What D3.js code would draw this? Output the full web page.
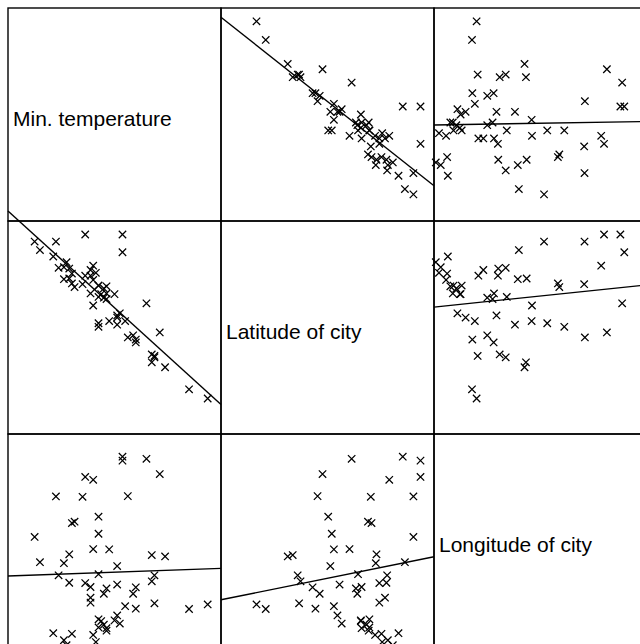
<!DOCTYPE html>
<html><head><meta charset="utf-8">
<script src="https://cdn.jsdelivr.net/npm/d3@7"></script>
<style>html,body{margin:0;padding:0;background:#fff;overflow:hidden}</style>
</head><body>
<script>
// US cities: January minimum temperature, latitude, longitude
const cities = ["Mobile","Montgomery","Phoenix","Little Rock","Los Angeles","San Francisco","Denver","New Haven","Wilmington","Washington","Jacksonville","Key West","Miami","Atlanta","Boise","Chicago","Indianapolis","Des Moines","Wichita","Louisville","New Orleans","Portland ME","Baltimore","Boston","Detroit","Minneapolis","St Louis","Helena","Omaha","Concord","Atlantic City","Albuquerque","Albany","New York","Charlotte","Raleigh","Bismark","Cincinnati","Cleveland","Oklahoma City","Portland OR","Harrisburg","Philadelphia","Charleston","Nashville","Amarillo","Galveston","Houston","Salt Lake City","Burlington","Norfolk","Seattle","Spokane","Madison","Milwaukee","Cheyenne"];
const minTemp = [44,38,35,31,47,42,15,22,26,30,45,65,58,37,22,19,21,11,22,27,45,12,25,23,21,2,24,8,13,11,27,24,14,27,34,31,0,26,21,28,33,24,24,38,31,24,49,44,18,7,32,33,19,9,13,14];
const latitude = [31.2,32.9,33.6,35.4,34.3,38.4,40.7,41.7,40.5,39.7,31.0,25.0,26.3,33.9,43.7,42.3,39.8,41.8,38.1,39.0,30.8,44.2,39.7,42.7,43.1,45.9,39.3,47.1,41.9,43.5,39.8,35.1,42.6,40.8,35.9,36.4,47.1,39.2,42.3,35.9,45.6,40.9,40.9,33.3,36.7,35.6,29.4,30.1,41.1,45.0,37.0,48.1,48.1,43.4,43.3,41.2];
const longitude = [88.5,86.8,112.5,92.8,118.7,123.0,105.3,73.4,76.3,77.5,82.3,82.0,80.7,85.0,117.1,88.0,86.9,93.6,97.6,86.5,90.2,70.5,77.3,71.4,83.9,93.9,90.5,112.4,96.1,71.9,75.3,106.7,73.7,74.6,81.5,78.9,101.0,85.0,82.5,97.5,123.6,77.8,75.5,80.8,87.6,101.9,95.5,95.9,112.3,73.9,76.6,122.5,117.9,90.2,88.1,104.9];

const varLabels = ["Min. temperature","Latitude of city","Longitude of city"];
const varData = [minTemp, latitude, longitude];
const varDomains = [[-10,70],[20,50],[70,130]];

const W = 640, H = 644;
const padLeft = 8, padTop = 8, cell = 213;

const svg = d3.select("body").append("svg").attr("width",W).attr("height",H);

function fit(xs, ys){
  const mx = d3.mean(xs), my = d3.mean(ys);
  let sxy = 0, sxx = 0;
  for(let k=0;k<xs.length;k++){ sxy += (xs[k]-mx)*(ys[k]-my); sxx += (xs[k]-mx)**2; }
  const b = sxy/sxx; return {a: my - b*mx, b};
}

for(let i=0;i<3;i++){
  for(let j=0;j<3;j++){
    const x0 = padLeft + j*cell, y0 = padTop + i*cell;
    const g = svg.append("g");
    g.append("rect").attr("x",x0).attr("y",y0).attr("width",cell).attr("height",cell)
      .attr("fill","none").attr("stroke","#000").attr("stroke-width",1.4);
    if(i===j){
      g.append("text").attr("x",x0+5).attr("y",y0+cell/2+11.5)
        .attr("font-family","'Liberation Sans', Arial, Helvetica, sans-serif")
        .attr("font-size",21).attr("fill","#000").text(varLabels[i]);
      continue;
    }
    const xs = varData[j], ys = varData[i];
    const sx = d3.scaleLinear().domain(varDomains[j]).range([x0, x0+cell]);
    const sy = d3.scaleLinear().domain(varDomains[i]).range([y0+cell, y0]);
    const r = 3.7;
    g.selectAll("path.pt").data(d3.range(xs.length)).join("path")
      .attr("class","pt")
      .attr("d", k => {
        const cx = sx(xs[k]), cy = sy(ys[k]);
        return `M${cx-r},${cy-r}L${cx+r},${cy+r}M${cx-r},${cy+r}L${cx+r},${cy-r}`;
      })
      .attr("stroke","#000").attr("stroke-width",1.25).attr("fill","none");
    const f = fit(xs, ys);
    const d0 = varDomains[j][0], d1 = varDomains[j][1];
    g.append("line")
      .attr("x1", sx(d0)).attr("y1", sy(f.a + f.b*d0))
      .attr("x2", sx(d1)).attr("y2", sy(f.a + f.b*d1))
      .attr("stroke","#000").attr("stroke-width",1.4);
  }
}
</script>
</body></html>
